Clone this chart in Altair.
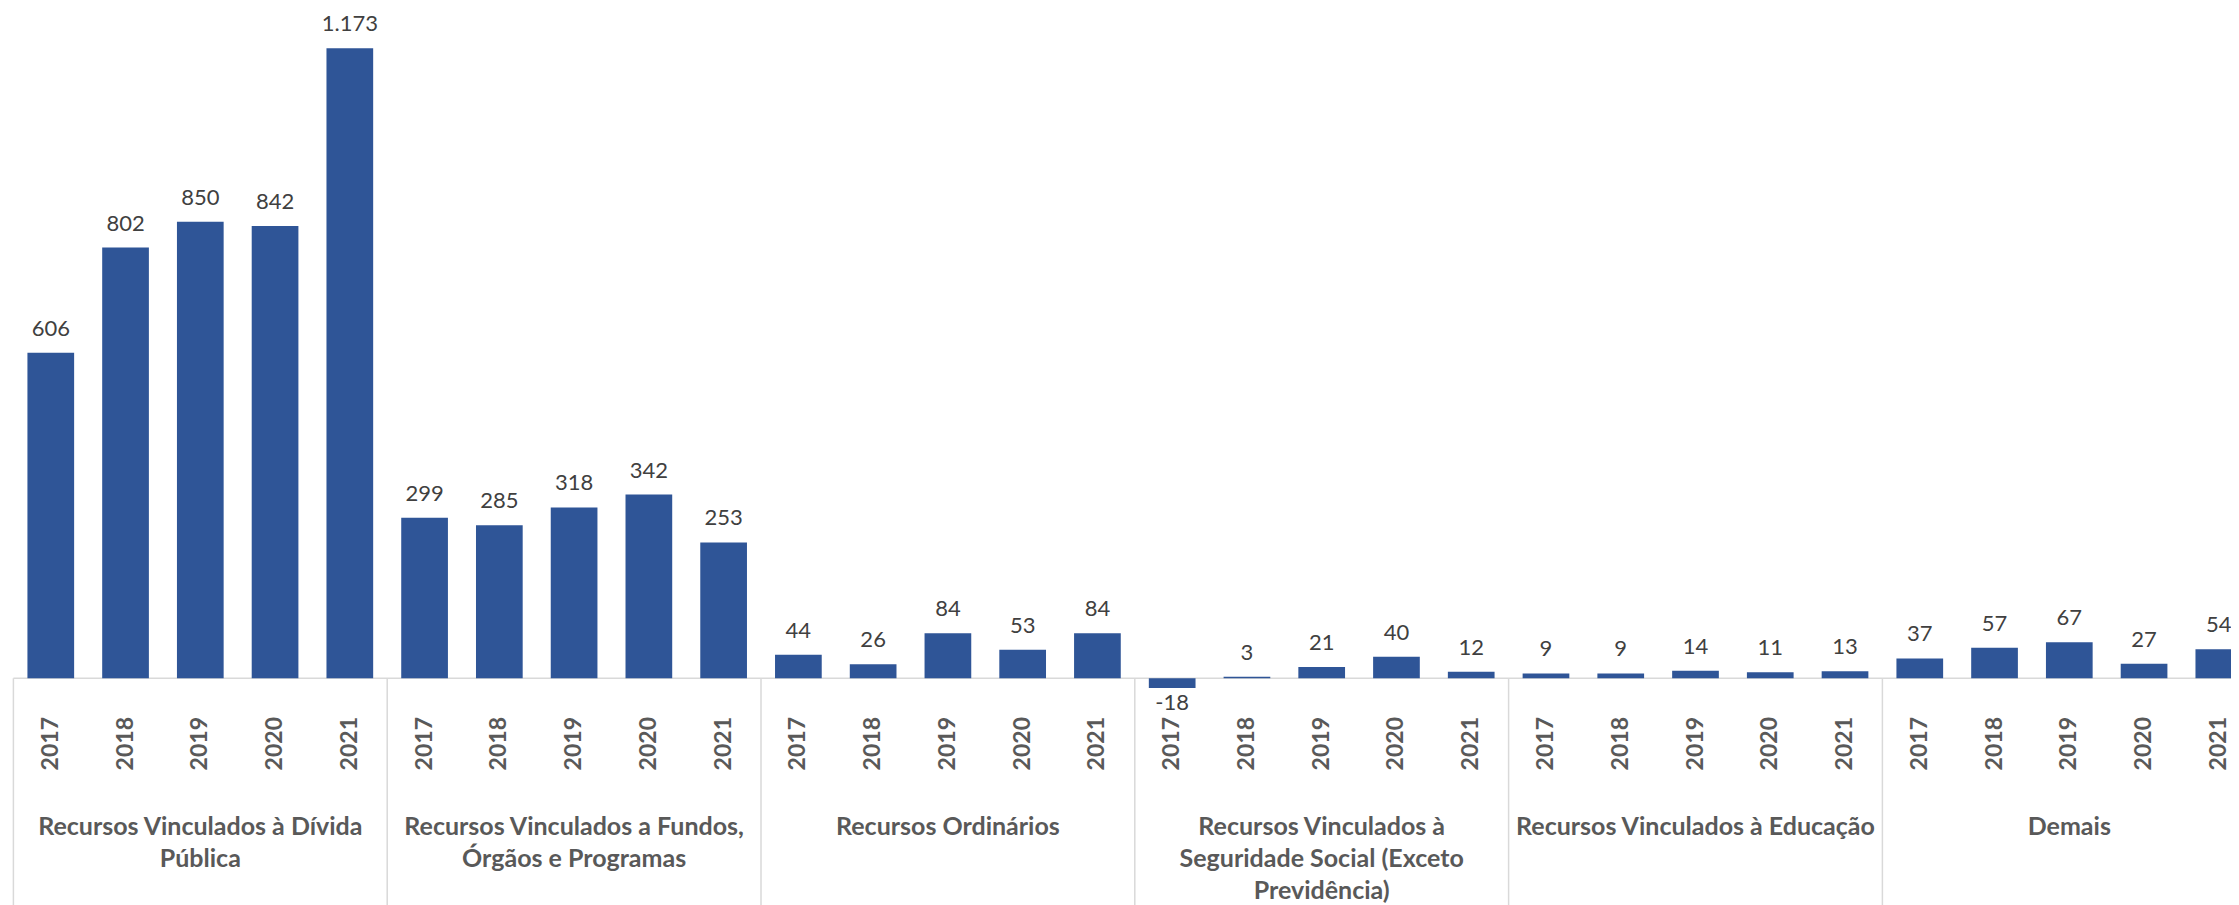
import altair as alt
import pandas as pd

groups = [
    "Recursos Vinculados à Dívida\nPública",
    "Recursos Vinculados a Fundos,\nÓrgãos e Programas",
    "Recursos Ordinários",
    "Recursos Vinculados à\nSeguridade Social (Exceto\nPrevidência)",
    "Recursos Vinculados à Educação",
    "Demais",
]
years = ["2017", "2018", "2019", "2020", "2021"]
divida = [606, 802, 850, 842, 1173]
fundos = [299, 285, 318, 342, 253]
ordinarios = [44, 26, 84, 53, 84]
seguridade = [-18, 3, 21, 40, 12]
educacao = [9, 9, 14, 11, 13]
demais = [37, 57, 67, 27, 54]
series = [divida, fundos, ordinarios, seguridade, educacao, demais]

rows = []
for gi, vals in enumerate(series):
    for yi, (yr, v) in enumerate(zip(years, vals)):
        rows.append({"gi": gi, "yi": yi, "year": yr, "v": v})
df = pd.DataFrame(rows)
n = len(years)
gdf = pd.DataFrame({"gi": list(range(len(groups))), "label": groups})
sdf = pd.DataFrame({"b": [i * n for i in range(len(groups))], "z": [0] * len(groups)})
zdf = pd.DataFrame({"z": [0]})

STEP = 74.76
W = 2217.6
H = 681
FONT = "Lato"
xscale = alt.Scale(domain=[0, W / STEP], nice=False, zero=False, padding=0)
yscale = alt.Scale(domain=[-20, 1248], nice=False, padding=0)

base = alt.Chart(df).transform_calculate(
    pos=f"datum.gi * {n} + datum.yi + 0.5",
    zero="0",
    lab="replace(replace(format(datum.v, ','), ',', '.'), '\u2212', '-')",
)

X_plain = dict(scale=xscale, axis=None, title=None)
Y_plain = dict(scale=yscale, axis=None, title=None)

zero_line = alt.Chart(zdf).mark_rule(color="#d9d9d9", strokeWidth=1.5).encode(
    y=alt.Y("z:Q", **Y_plain)
)

bars = base.mark_bar(size=46.7, color="#2F5597").encode(
    x=alt.X("pos:Q", **X_plain),
    y=alt.Y("v:Q", **Y_plain),
    y2=alt.Y2("zero:Q"),
)

pos_text = base.transform_filter("datum.v >= 0").mark_text(
    dy=-17, baseline="alphabetic", font=FONT, fontSize=22, color="#404040"
).encode(x=alt.X("pos:Q", **X_plain), y=alt.Y("v:Q", **Y_plain), text="lab:N")

neg_text = base.transform_filter("datum.v < 0").mark_text(
    dy=22, baseline="alphabetic", font=FONT, fontSize=22, color="#404040"
).encode(x=alt.X("pos:Q", **X_plain), y=alt.Y("v:Q", **Y_plain), text="lab:N")

year_text = base.mark_text(
    angle=270, align="right", baseline="middle", font=FONT, fontSize=23,
    fontWeight="bold", color="#595959",
).encode(x=alt.X("pos:Q", **X_plain), y=alt.value(709), text="year:N")

seps = alt.Chart(sdf).mark_rule(color="#d9d9d9", strokeWidth=1.5).encode(
    x=alt.X("b:Q", **X_plain), y=alt.Y("z:Q", **Y_plain), y2=alt.value(900)
)

glab = alt.Chart(gdf).transform_calculate(
    c=f"datum.gi * {n} + {n / 2}"
).mark_text(
    lineBreak="\n",
    baseline="alphabetic",
    align="center",
    font=FONT,
    fontWeight="bold",
    fontSize=25,
    lineHeight=32,
    color="#595959",
).encode(x=alt.X("c:Q", **X_plain), y=alt.value(827), text="label:N")

chart = alt.layer(zero_line, seps, bars, pos_text, neg_text, year_text, glab).properties(
    width=W,
    height=H,
    autosize=alt.AutoSizeParams(type="none"),
    padding={"left": 5.4, "top": 0, "right": 0, "bottom": 216},
).configure_view(stroke=None)

chart.save("out.html", embed_options={"renderer": "svg", "actions": False})
